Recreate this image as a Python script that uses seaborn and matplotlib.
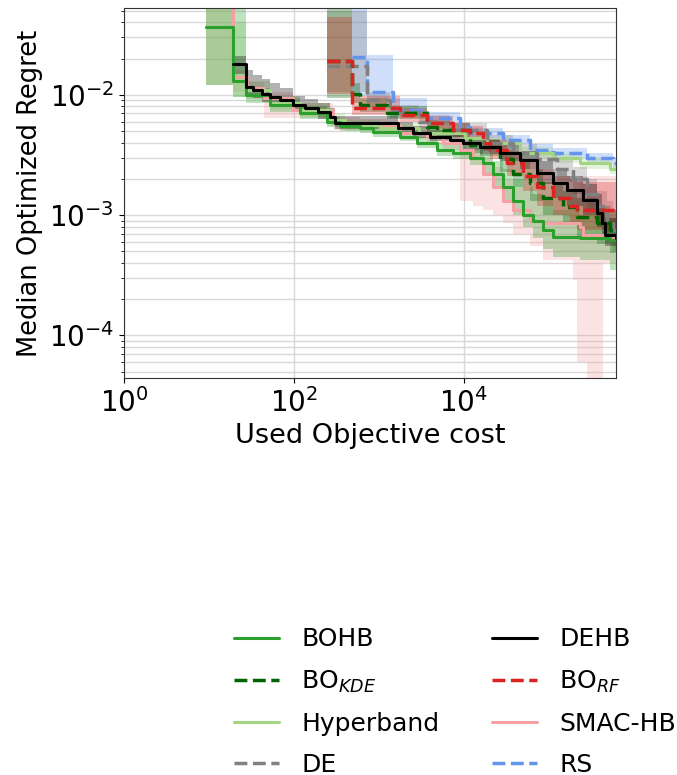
import matplotlib
matplotlib.use("Agg")
import matplotlib.pyplot as plt
import pandas as pd
import seaborn as sns
from matplotlib.ticker import NullLocator

# median regret (step curves) and the shaded spread
bohb_cost = [9.2, 19, 27, 52, 118, 245, 350, 598, 850, 1767, 2800, 4810, 7420, 11770, 16730, 21950, 28780, 37700, 49430, 64830, 84960, 111400, 231500, 522000, 620000]
bohb_med = [0.037, 0.013, 0.01, 0.0083, 0.0071, 0.006, 0.0055, 0.0053, 0.0049, 0.0045, 0.004, 0.0035, 0.0033, 0.003, 0.0027, 0.0022, 0.0017, 0.0013, 0.001, 0.0009, 0.00075, 0.00066, 0.00064, 0.00062, 0.00062]
bohb_lo = [0.012, 0.0096, 0.0085, 0.0072, 0.0063, 0.0054, 0.005, 0.0048, 0.0045, 0.0041, 0.0036, 0.0031, 0.0029, 0.0026, 0.0022, 0.0017, 0.0013, 0.001, 0.0008, 0.00065, 0.00052, 0.00045, 0.00042, 0.00035, 0.00035]
bohb_hi = [0.08, 0.06, 0.0115, 0.0094, 0.008, 0.0066, 0.006, 0.0058, 0.0054, 0.005, 0.0045, 0.004, 0.0038, 0.0035, 0.0032, 0.0028, 0.0024, 0.002, 0.0017, 0.0015, 0.0013, 0.0011, 0.001, 0.00095, 0.00095]

kde_cost = [245, 480, 598, 1243, 3670, 4810, 11770, 15420, 26530, 37700, 59760, 84960, 146100, 213500, 367000, 522000, 620000]
kde_med = [0.0193, 0.0102, 0.0082, 0.0071, 0.0054, 0.0051, 0.0038, 0.0037, 0.0029, 0.0022, 0.00185, 0.0014, 0.00117, 0.00096, 0.00086, 0.00075, 0.00075]
kde_lo = [0.0095, 0.0085, 0.0072, 0.0063, 0.0048, 0.0045, 0.0033, 0.0031, 0.0023, 0.0017, 0.0013, 0.001, 0.00082, 0.00066, 0.00058, 0.00048, 0.00048]
kde_hi = [0.08, 0.0125, 0.0095, 0.0081, 0.0062, 0.0058, 0.0044, 0.0043, 0.0035, 0.0028, 0.0024, 0.0019, 0.0016, 0.0014, 0.0012, 0.0011, 0.0011]

hb_cost = [9.2, 19, 27, 52, 118, 265, 400, 1028, 3000, 10200, 18700, 45600, 111400, 231500, 522000, 620000]
hb_med = [0.037, 0.0133, 0.011, 0.0086, 0.0075, 0.0062, 0.0056, 0.0053, 0.0048, 0.0044, 0.004, 0.0033, 0.003, 0.0027, 0.0024, 0.0024]
hb_lo = [0.012, 0.0096, 0.0093, 0.0075, 0.0066, 0.0055, 0.005, 0.0048, 0.0044, 0.004, 0.0036, 0.003, 0.0027, 0.0024, 0.0022, 0.0022]
hb_hi = [0.08, 0.04, 0.013, 0.0098, 0.0085, 0.007, 0.0062, 0.0058, 0.0053, 0.0048, 0.0044, 0.0037, 0.0033, 0.003, 0.0027, 0.0027]

de_cost = [245, 720, 1350, 3000, 6840, 18700, 37700, 72230, 124200, 191600, 280000, 367000, 481000, 566000, 620000]
de_med = [0.0175, 0.0091, 0.0072, 0.006, 0.0051, 0.004, 0.0033, 0.0029, 0.0024, 0.002, 0.0015, 0.0012, 0.0009, 0.00075, 0.00075]
de_lo = [0.0105, 0.0079, 0.0064, 0.0053, 0.0045, 0.0035, 0.0028, 0.0024, 0.0019, 0.0015, 0.0011, 0.0009, 0.0007, 0.0005, 0.0005]
de_hi = [0.05, 0.0105, 0.0082, 0.0068, 0.0058, 0.0046, 0.0039, 0.0034, 0.0029, 0.0025, 0.002, 0.0016, 0.0013, 0.0011, 0.0011]

dehb_cost = [19, 27, 33, 42, 52, 68, 97, 134, 192, 265, 304, 1674, 2512, 3981, 6840, 9730, 15420, 26530, 45600, 72230, 111400, 162900, 251200, 367000, 420700, 456000, 620000]
dehb_med = [0.0181, 0.0117, 0.011, 0.0102, 0.0096, 0.0091, 0.0083, 0.0078, 0.0072, 0.0066, 0.00585, 0.00531, 0.00482, 0.00447, 0.00422, 0.00398, 0.00369, 0.00329, 0.00287, 0.00224, 0.00185, 0.00162, 0.00133, 0.00104, 0.00086, 0.00068, 0.00064]
dehb_lo = [0.015, 0.0098, 0.0094, 0.0088, 0.0083, 0.0079, 0.0072, 0.0068, 0.0063, 0.0058, 0.0052, 0.0048, 0.0044, 0.0041, 0.0038, 0.0035, 0.0032, 0.0028, 0.0024, 0.0018, 0.0014, 0.0012, 0.001, 0.0008, 0.00065, 0.00055, 0.00052]
dehb_hi = [0.021, 0.016, 0.0145, 0.0135, 0.0125, 0.0115, 0.0098, 0.0092, 0.0085, 0.0078, 0.0067, 0.006, 0.0055, 0.0051, 0.0048, 0.0045, 0.0042, 0.0038, 0.0034, 0.0028, 0.0024, 0.0021, 0.0018, 0.0015, 0.0012, 0.00095, 0.0009]

rf_cost = [245, 480, 1767, 3670, 7420, 11770, 16730, 20220, 32060, 49430, 72230, 111400, 176600, 213500, 620000]
rf_med = [0.019, 0.0078, 0.0068, 0.00585, 0.0051, 0.0048, 0.004, 0.0035, 0.0027, 0.0021, 0.0017, 0.0014, 0.0012, 0.0011, 0.0011]
rf_lo = [0.0102, 0.0068, 0.006, 0.0052, 0.0045, 0.0042, 0.0034, 0.0029, 0.0021, 0.0016, 0.0012, 0.001, 0.00085, 0.00075, 0.00075]
rf_hi = [0.044, 0.0097, 0.0078, 0.0067, 0.0058, 0.0055, 0.0047, 0.0042, 0.0034, 0.0028, 0.0024, 0.0021, 0.002, 0.0019, 0.0019]

smac_cost = [9.2, 19, 28, 45, 97, 290, 598, 1767, 3670, 5660, 8970, 12760, 16730, 21950, 28780, 37700, 59760, 84960, 191600, 213500, 231500, 251200, 280000, 431700, 620000]
smac_med = [0.06, 0.014, 0.0114, 0.0094, 0.0075, 0.0058, 0.0056, 0.0048, 0.0045, 0.004, 0.0035, 0.003, 0.0022, 0.0017, 0.0013, 0.0011, 0.0009, 0.00086, 0.00086, 0.00086, 0.00079, 0.00068, 0.00068, 0.00066, 0.00066]
smac_lo = [0.012, 0.0105, 0.0092, 0.0064, 0.0064, 0.0051, 0.005, 0.0043, 0.004, 0.0035, 0.0013, 0.0012, 0.0011, 0.001, 0.00086, 0.0007, 0.00055, 0.00042, 0.00029, 0.00006, 0.00006, 0.00006, 0.00001, 0.0004, 0.0004]
smac_hi = [0.08, 0.016, 0.0128, 0.0105, 0.0085, 0.0066, 0.0063, 0.0055, 0.0051, 0.0046, 0.0041, 0.0036, 0.003, 0.0025, 0.002, 0.0017, 0.0015, 0.0014, 0.0014, 0.0014, 0.0021, 0.0021, 0.0021, 0.0021, 0.0021]

rs_cost = [480, 720, 1462, 3670, 8970, 11770, 28780, 59760, 111400, 280000, 566000, 620000]
rs_med = [0.0207, 0.0106, 0.0075, 0.0064, 0.0054, 0.0048, 0.0042, 0.0035, 0.0033, 0.003, 0.0027, 0.0027]
rs_lo = [0.0098, 0.0093, 0.0067, 0.0058, 0.0049, 0.0044, 0.0039, 0.0032, 0.003, 0.0027, 0.0024, 0.0024]
rs_hi = [0.08, 0.0215, 0.0095, 0.0072, 0.006, 0.0053, 0.0046, 0.0039, 0.0036, 0.0033, 0.003, 0.003]

legend_order = ["BOHB", "BO$_{KDE}$", "Hyperband", "DE", "DEHB", "BO$_{RF}$", "SMAC-HB", "RS"]

# drawing order (back to front)
runs = [
    ("RS", rs_cost, rs_med, rs_lo, rs_hi, "cornflowerblue", "--"),
    ("SMAC-HB", smac_cost, smac_med, smac_lo, smac_hi, "#f4a0a4", "-"),
    ("Hyperband", hb_cost, hb_med, hb_lo, hb_hi, "#a3d585", "-"),
    ("DE", de_cost, de_med, de_lo, de_hi, "gray", "--"),
    ("BOHB", bohb_cost, bohb_med, bohb_lo, bohb_hi, "#2ca02c", "-"),
    ("BO$_{KDE}$", kde_cost, kde_med, kde_lo, kde_hi, "darkgreen", "--"),
    ("BO$_{RF}$", rf_cost, rf_med, rf_lo, rf_hi, "#dd2222", "--"),
    ("DEHB", dehb_cost, dehb_med, dehb_lo, dehb_hi, "black", "-"),
]

sns.set_style("ticks")
plt.rcParams.update({"font.family": ["DejaVu Sans"], "font.size": 18,
                     "text.color": "black", "axes.labelcolor": "black",
                     "xtick.color": "black", "ytick.color": "black"})

fig = plt.figure(figsize=(6.77, 7.75), dpi=100)
ax = fig.add_axes([0.183, 0.512, 0.727, 0.478])
ax.set_xscale("log")
ax.set_yscale("log")

for name, cost, med, lo, hi, color, ls in runs:
    ax.fill_between(cost, lo, hi, step="post", color=color, alpha=0.3, lw=0)

for name, cost, med, lo, hi, color, ls in runs:
    df = pd.DataFrame({"cost": cost, "regret": med})
    sns.lineplot(data=df, x="cost", y="regret", ax=ax, color=color, linestyle=ls,
                 lw=2.5 if ls == "--" else 2.2, drawstyle="steps-post",
                 estimator=None, label=name)

ax.set_xlim(1, 6.2e5)
ax.set_ylim(4.4e-5, 0.053)
ax.set_xticks([1, 1e2, 1e4])
ax.xaxis.set_minor_locator(NullLocator())
ax.grid(True, which="major", axis="x", color="#d8d8d8", lw=1)
ax.grid(True, which="both", axis="y", color="#d8d8d8", lw=1)
ax.tick_params(axis="both", which="major", labelsize=20)
for s in ax.spines.values():
    s.set_color("#333333")

ax.set_xlabel("Used Objective cost", fontsize=19.5)
ax.set_ylabel("Median Optimized Regret", fontsize=18.5)

handles, labels = ax.get_legend_handles_labels()
lookup = dict(zip(labels, handles))
ax.get_legend().remove()
fig.legend([lookup[l] for l in legend_order], legend_order, ncol=2, frameon=False,
           loc="lower center", bbox_to_anchor=(0.672, -0.031), fontsize=18,
           handlelength=1.8, handletextpad=0.9, labelspacing=0.68, columnspacing=2.1)

fig.savefig("out.png", dpi=100)
